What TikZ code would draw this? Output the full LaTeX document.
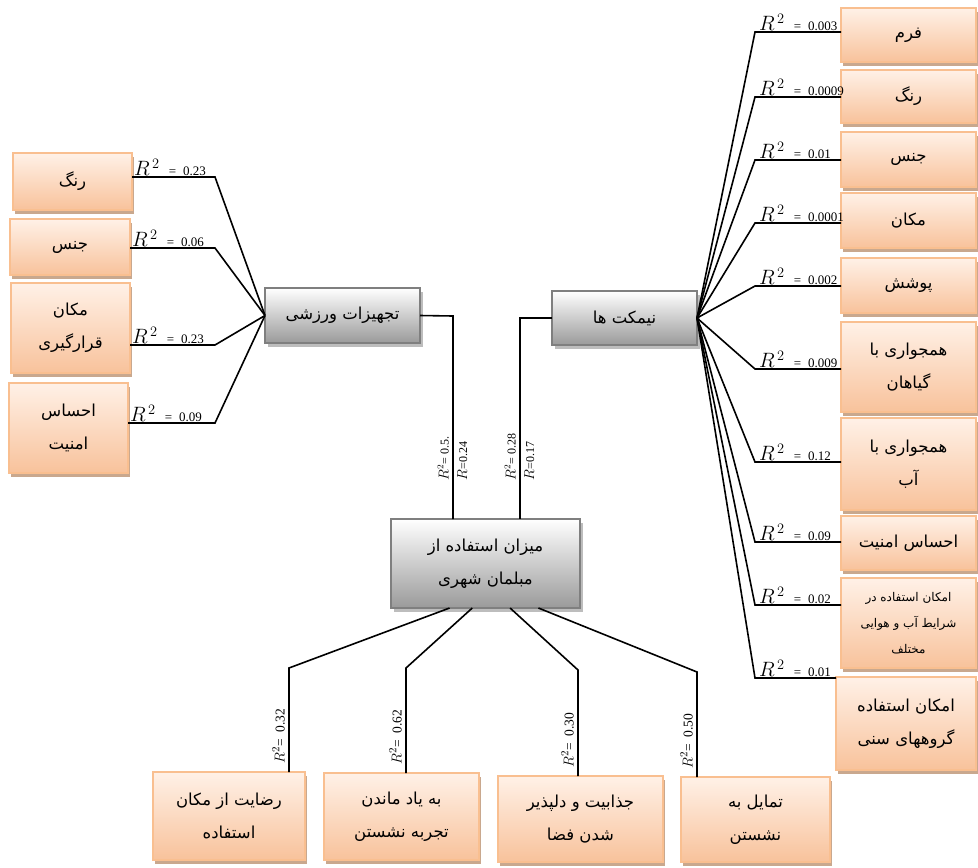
\documentclass[tikz,border=0pt]{standalone}
\usepackage{fontspec}
\setmainfont{Liberation Serif}
\newfontfamily\arabicfont[Script=Arabic]{DejaVu Sans}
\TeXXeTstate=1
\usetikzlibrary{shadows,calc}
\newcommand\prs[1]{{\arabicfont\beginR #1\endR}}
\newcommand\rlab[1]{{\fontsize{20}{20}\selectfont$R^{\,2}$}\hspace{9pt}{\fontsize{13}{13}\selectfont=\hspace{7pt}#1}}
\newcommand\vlabA[1]{{\fontsize{13.5}{13.5}\selectfont$R^2$}{\fontsize{12}{12}\selectfont=\hspace{4pt}#1}}
\newcommand\vlabB[1]{{\fontsize{13.5}{13.5}\selectfont$R$}{\fontsize{12}{12}\selectfont=\hspace{1pt}#1}}
\newcommand\vlabC[1]{{\fontsize{15}{15}\selectfont$R^2$}{\fontsize{13.5}{13.5}\selectfont=\hspace{7pt}#1}}
\definecolor{obord}{HTML}{F9BF90}
\definecolor{otop}{HTML}{FFF1E7}
\definecolor{obot}{HTML}{F8C29B}
\definecolor{oshadow}{HTML}{C9A88E}
\definecolor{gbord}{HTML}{7F7F7F}
\definecolor{gtop}{HTML}{FFFFFF}
\definecolor{gbot}{HTML}{9A9A9A}
\definecolor{gshadow}{HTML}{BDBDBD}
\begin{document}
\begin{tikzpicture}[x=1pt,y=-1pt,
  obox/.style={draw=obord, line width=1.2pt, top color=otop, bottom color=obot,
    drop shadow={shadow xshift=2pt,shadow yshift=-3.5pt,fill=oshadow,opacity=1},
    inner sep=0pt, outer sep=0pt, align=center, font=\fontsize{16.5}{33}\selectfont},
  gbox/.style={draw=gbord, line width=1.2pt, top color=gtop, bottom color=gbot,
    drop shadow={shadow xshift=3pt,shadow yshift=-4pt,fill=gshadow,opacity=1},
    inner sep=0pt, outer sep=0pt, align=center, font=\fontsize{16.5}{33}\selectfont},
  conn/.style={line width=1.6pt, black},
  lab/.style={inner sep=1pt, anchor=south west},
  vlab/.style={rotate=90, inner sep=1pt}]
\useasboundingbox (0,0) rectangle (978,868);
% right column
\node[obox, minimum width=135pt, minimum height=54pt] (r1) at (908.5,35) {\prs{فرم}};
\node[obox, minimum width=135pt, minimum height=53pt] (r2) at (908.5,96.5) {\prs{رنگ}};
\node[obox, minimum width=135pt, minimum height=55pt] (r3) at (908.5,159.5) {\prs{جنس}};
\node[obox, minimum width=135pt, minimum height=55pt] (r4) at (908.5,220.5) {\prs{مکان}};
\node[obox, minimum width=135pt, minimum height=55pt] (r5) at (908.5,285.5) {\prs{پوشش}};
\node[obox, minimum width=135pt, minimum height=90pt] (r6) at (908.5,367) {\prs{همجواری با}\\\prs{گیاهان}};
\node[obox, minimum width=135pt, minimum height=92pt] (r7) at (908.5,464) {\prs{همجواری با}\\\prs{آب}};
\node[obox, minimum width=135pt, minimum height=54pt] (r8) at (908.5,543) {\prs{احساس امنیت}};
\node[obox, minimum width=135pt, minimum height=90pt, font=\fontsize{12}{26}\selectfont] (r9) at (908.5,623) {\prs{امکان استفاده در}\\\prs{شرایط آب و هوایی}\\\prs{مختلف}};
\node[obox, minimum width=140pt, minimum height=93pt] (r10) at (906,723.5) {\prs{امکان استفاده}\\\prs{گروههای سنی}};
% left column
\node[obox, minimum width=119pt, minimum height=57pt] (l1) at (72.5,181.5) {\prs{رنگ}};
\node[obox, minimum width=120pt, minimum height=56pt] (l2) at (70,247) {\prs{جنس}};
\node[obox, minimum width=119pt, minimum height=90pt] (l3) at (70.5,328) {\prs{مکان}\\\prs{قرارگیری}};
\node[obox, minimum width=119pt, minimum height=90pt] (l4) at (68.5,428) {\prs{احساس}\\\prs{امنیت}};
% grey boxes
\node[gbox, minimum width=155pt, minimum height=55pt] (tj) at (342.5,315.5) {\prs{تجهیزات ورزشی}};
\node[gbox, minimum width=145pt, minimum height=54pt] (nim) at (624.5,318) {\prs{نیمکت ها}};
\node[gbox, minimum width=189pt, minimum height=89pt] (cen) at (485.5,563.5) {\prs{میزان استفاده از}\\\prs{مبلمان شهری}};
% bottom boxes
\node[obox, minimum width=152pt, minimum height=88pt] (b1) at (229,816) {\prs{رضایت از مکان}\\\prs{استفاده}};
\node[obox, minimum width=155pt, minimum height=87pt] (b2) at (401.5,816.5) {\prs{به یاد ماندن}\\\prs{تجربه نشستن}};
\node[obox, minimum width=165pt, minimum height=86pt] (b3) at (580.5,819) {\prs{جذابیت و دلپذیر}\\\prs{شدن فضا}};
\node[obox, minimum width=149pt, minimum height=85pt] (b4) at (755.5,819.5) {\prs{تمایل به}\\\prs{نشستن}};
% right connectors
\foreach \i/\y/\v in {1/32/0.003,2/97/0.0009,3/160/0.01,4/223/0.0001,5/286/0.002,6/369/0.009,7/462/0.12,8/542/0.09,9/605/0.02,10/678/0.01}{
  \coordinate (e\i) at (755,\y);
  \draw[conn] (nim.east) -- (e\i) -- (e\i -| r\i.west);
  \node[lab] (le\i) at ($(e\i)+(3,0)$) {\rlab{\v}};
}
% left connectors
\foreach \i/\y/\v in {1/177/0.23,2/248/0.06,3/345/0.23,4/423/0.09}{
  \coordinate (f\i) at (215,\y);
  \draw[conn] (tj.west) -- (f\i) -- (f\i -| l\i.east);
  \node[lab] (lf\i) at ($(f\i -| l\i.east)+(1,0)$) {\rlab{\v}};
}
% middle connectors
\coordinate (m1) at (453,316);
\coordinate (m2) at (520,318);
\draw[conn] (tj.east) -- (m1) -- (m1 |- cen.north);
\draw[conn] (nim.west) -- (m2) -- (m2 |- cen.north);
\node[vlab, anchor=south west] (v1) at (450,482) {\vlabA{0.5.}};
\node[vlab, anchor=north west] (v2) at (456,482) {\vlabB{0.24}};
\node[vlab, anchor=south west] (v3) at (517,482) {\vlabA{0.28}};
\node[vlab, anchor=north west] (v4) at (523,482) {\vlabB{0.17}};
% bottom connectors
\coordinate (s1) at ($(cen.south west)!0.31!(cen.south east)$);
\coordinate (s2) at ($(cen.south west)!0.43!(cen.south east)$);
\coordinate (s3) at ($(cen.south west)!0.63!(cen.south east)$);
\coordinate (s4) at ($(cen.south west)!0.78!(cen.south east)$);
\coordinate (k1) at (289,668);
\coordinate (k2) at (406,668);
\coordinate (k3) at (578,670);
\coordinate (k4) at (697,672);
\foreach \i/\v in {1/0.32,2/0.62,3/0.30,4/0.50}{
  \draw[conn] (s\i) -- (k\i) -- (k\i |- b\i.north);
  \node[vlab, anchor=south west] (vb\i) at ($(k\i |- b\i.north)+(-3,-7)$) {\vlabC{\v}};
}
\end{tikzpicture}
\end{document}
